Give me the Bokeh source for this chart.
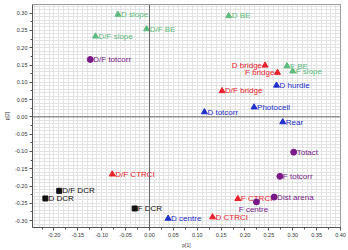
from bokeh.plotting import figure
from bokeh.models import ColumnDataSource, Span, SingleIntervalTicker, Grid, Range1d, PrintfTickFormatter
from bokeh.embed import file_html
from bokeh.resources import INLINE
from bokeh.core.properties import value

# data
names = ["D slope", "D/F BE", "D/F slope", "D BE", "F BE", "F slope",
         "D bridge", "F bridge", "D/F bridge", "D/F CTRCI", "F CTRCI", "D CTRCI",
         "D hurdle", "Photocell", "D totcorr", "Rear", "D centre",
         "D/F totcorr", "Totact", "F totcorr", "Dist arena", "F centre",
         "D/F DCR", "D DCR", "F DCR"]
px = [-0.066, -0.006, -0.113, 0.166, 0.288, 0.300,
      0.242, 0.268, 0.152, -0.078, 0.185, 0.132,
      0.266, 0.219, 0.115, 0.279, 0.039,
      -0.124, 0.302, 0.273, 0.261, 0.224,
      -0.189, -0.218, -0.031]
py = [0.296, 0.254, 0.233, 0.292, 0.147, 0.132,
      0.149, 0.128, 0.075, -0.166, -0.237, -0.290,
      0.091, 0.028, 0.014, -0.015, -0.294,
      0.166, -0.102, -0.172, -0.232, -0.246,
      -0.214, -0.236, -0.265]
groups = ["g"] * 6 + ["r"] * 6 + ["b"] * 5 + ["p"] * 5 + ["k"] * 3

# styles
colors = {"g": "#5cba7d", "r": "#e8202a", "b": "#1f2fcc", "p": "#7a1a88", "k": "#111111"}
markers = {"g": "triangle", "r": "triangle", "b": "triangle", "p": "circle", "k": "square"}
left_labels = {"D bridge", "F bridge"}
below_labels = {"F centre"}

p = figure(width=348, height=250, output_backend="svg", toolbar_location=None,
           x_range=Range1d(-0.245, 0.40), y_range=Range1d(-0.32, 0.325),
           min_border_left=29, min_border_right=8, min_border_top=4, min_border_bottom=22)
p.background_fill_color = "white"
p.outline_line_color = "#999999"
p.outline_line_width = 1

for ax in (p.xaxis[0], p.yaxis[0]):
    ax.ticker = SingleIntervalTicker(interval=0.05, num_minor_ticks=2)
    ax.formatter = PrintfTickFormatter(format="%.2f")
    ax.major_label_text_font = "Liberation Sans"
    ax.major_label_text_font_size = "5.5px"
    ax.major_label_text_color = "#333333"
    ax.major_label_standoff = 2
    ax.axis_line_color = "#555555"
    ax.major_tick_line_color = "#555555"
    ax.minor_tick_line_color = "#555555"
    ax.major_tick_out = 3
    ax.major_tick_in = 0
    ax.minor_tick_out = 2
    ax.minor_tick_in = 0
    ax.axis_label_text_font = "Liberation Sans"
    ax.axis_label_text_font_size = "5px"
    ax.axis_label_text_font_style = "normal"
    ax.axis_label_text_color = "#333333"
    ax.axis_label_standoff = 2
p.xaxis.axis_label = "p[1]"
p.yaxis.axis_label = "p[2]"

p.grid.visible = False
fine = SingleIntervalTicker(interval=0.01, num_minor_ticks=0)
p.add_layout(Grid(dimension=0, ticker=fine, grid_line_color="#e3e3e3", grid_line_width=1))
p.add_layout(Grid(dimension=1, ticker=fine, grid_line_color="#e3e3e3", grid_line_width=1))

p.add_layout(Span(location=0, dimension="height", line_color="#666666", line_width=1))
p.add_layout(Span(location=0, dimension="width", line_color="#666666", line_width=1))

for g in ["g", "r", "b", "p", "k"]:
    idx = [i for i, gg in enumerate(groups) if gg == g]
    src = ColumnDataSource(dict(x=[px[i] for i in idx], y=[py[i] for i in idx],
                                name=[names[i] for i in idx]))
    p.scatter("x", "y", source=src, marker=markers[g], size=6 if g != "k" else 5,
              fill_color=colors[g], line_color=colors[g])
    for kind in ["right", "left", "below"]:
        sel = [i for i in idx if (kind == "left" and names[i] in left_labels) or
               (kind == "below" and names[i] in below_labels) or
               (kind == "right" and names[i] not in left_labels and names[i] not in below_labels)]
        if not sel:
            continue
        s2 = ColumnDataSource(dict(x=[px[i] for i in sel], y=[py[i] for i in sel],
                                   name=[names[i] for i in sel]))
        if kind == "right":
            kw = dict(text_align="left", text_baseline="middle", x_offset=3, y_offset=0)
        elif kind == "left":
            kw = dict(text_align="right", text_baseline="middle", x_offset=-3, y_offset=0)
        else:
            kw = dict(text_align="center", text_baseline="top", x_offset=-3, y_offset=3)
        p.text("x", "y", text="name", source=s2, text_color=colors[g],
               text_font=value("Liberation Sans"), text_font_size="8px", **kw)

open("out.html", "w").write(file_html(p, INLINE))
